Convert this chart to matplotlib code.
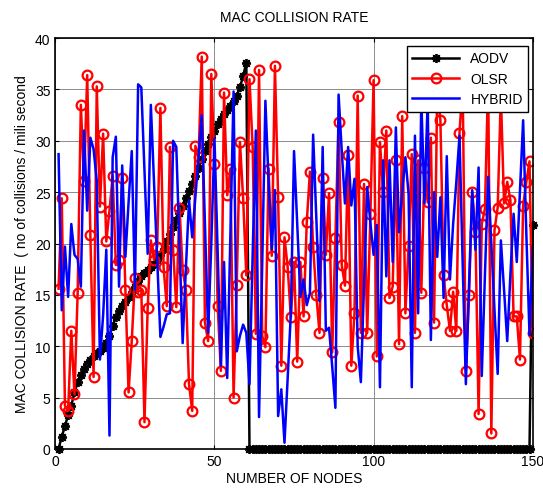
import numpy as np
from matplotlib import pyplot as plt

plt.rcParams['font.family'] = ['Liberation Sans', 'DejaVu Sans']

# DATOS
nodos = np.arange(1, 151)

aodv_subida = [0, 1.2, 2.2, 3.3, 4.2, 5.5, 6.5, 7.2, 7.8, 8.3,
               8.7, 9.0, 9.3, 9.5, 9.8, 10.3, 11.0, 12.0, 12.8, 13.4,
               13.9, 14.3, 14.8, 15.3, 15.8, 16.3, 16.8, 17.1, 17.4, 17.7,
               18.0, 18.4, 18.9, 19.5, 20.2, 20.9, 21.6, 22.3, 23.0, 23.7,
               24.4, 25.1, 25.8, 26.6, 27.4, 28.2, 29.0, 29.7, 30.4, 31.0,
               31.6, 32.1, 32.6, 33.0, 33.4, 33.9, 34.4, 35.2, 36.3, 37.6]
aodv_ceros = [0] * 89
aodv_final = [21.8]
aodv = aodv_subida + aodv_ceros + aodv_final

olsr = [15.6, 24.4, 4.2, 3.7, 11.5, 5.3, 15.2, 33.5, 26.1, 36.4,
        20.8, 7.0, 35.3, 23.6, 30.7, 20.2, 23.2, 26.6, 17.9, 18.4,
        26.4, 15.5, 5.5, 10.5, 16.6, 15.3, 15.5, 2.6, 13.7, 20.3,
        18.4, 19.7, 33.2, 17.7, 13.9, 29.4, 19.4, 13.8, 23.5, 17.4,
        15.5, 6.3, 3.7, 29.5, 28.4, 38.2, 12.3, 10.5, 36.5, 27.7,
        13.9, 7.6, 34.7, 24.7, 27.3, 5.0, 16.0, 29.9, 24.4, 16.9,
        36.0, 29.4, 11.2, 36.9, 11.0, 9.9, 27.3, 18.8, 37.3, 24.5,
        8.1, 20.6, 17.7, 12.8, 18.2, 8.5, 18.2, 12.9, 22.1, 27.0,
        19.7, 15.0, 11.3, 26.4, 18.9, 24.9, 9.4, 20.5, 31.8, 17.9,
        15.9, 28.6, 8.1, 13.2, 34.4, 11.3, 25.8, 11.3, 22.9, 35.9,
        9.0, 29.9, 25.0, 31.0, 14.7, 15.8, 28.1, 10.2, 32.4, 13.2,
        19.8, 28.7, 11.3, 28.1, 15.2, 27.4, 24.0, 30.3, 12.3, 35.0,
        32.0, 16.9, 14.0, 11.5, 15.3, 11.5, 30.8, 35.5, 7.6, 15.0,
        25.0, 21.1, 3.4, 21.9, 23.4, 36.0, 1.5, 21.3, 23.5, 34.5,
        23.9, 26.0, 24.2, 12.9, 12.9, 8.7, 23.7, 26.0, 28.0, 11.3]

hybrid = [28.7, 13.5, 19.7, 14.8, 21.9, 18.9, 18.5, 15.8, 31.0, 23.2,
          30.3, 29.2, 26.1, 8.7, 13.0, 19.4, 1.3, 28.4, 30.4, 15.8,
          27.6, 18.7, 24.0, 29.0, 15.5, 35.5, 35.2, 27.0, 19.0, 33.5,
          26.0, 18.5, 10.9, 11.9, 13.1, 13.2, 30.0, 29.4, 20.0, 10.3,
          17.5, 24.2, 20.6, 24.5, 28.5, 32.5, 22.0, 11.3, 20.0, 30.2,
          19.0, 8.1, 18.2, 6.9, 21.0, 34.8, 9.5, 11.0, 12.1, 11.3,
          6.3, 19.0, 31.0, 3.1, 18.0, 33.9, 26.0, 19.4, 25.2, 3.2,
          5.8, 0.6, 7.0, 13.2, 29.0, 22.0, 14.8, 16.5, 14.0, 15.2,
          30.6, 22.5, 14.4, 29.4, 11.5, 11.8, 8.0, 4.0, 34.5, 29.0,
          23.9, 29.4, 23.7, 26.3, 10.0, 6.5, 16.0, 25.5, 22.0, 18.9,
          21.8, 6.0, 28.1, 16.8, 28.1, 18.2, 31.3, 21.1, 25.0, 28.4,
          24.8, 6.0, 30.5, 13.2, 34.0, 23.9, 34.0, 10.6, 25.0, 18.7,
          24.5, 14.7, 28.5, 16.5, 21.9, 26.0, 30.5, 18.0, 6.3, 16.0,
          25.2, 19.4, 27.4, 7.1, 17.0, 26.5, 20.0, 13.5, 7.3, 20.3,
          15.5, 10.5, 17.0, 22.9, 18.2, 25.0, 32.0, 21.0, 11.1, 19.7]

xticks = [0, 50, 100, 150]
yticks = [0, 5, 10, 15, 20, 25, 30, 35, 40]


def main():
    fig = plt.figure(figsize=(5.43, 4.89), dpi=100)
    ax = fig.add_axes([0.102, 0.080, 0.879, 0.840])

    # asterisco tipo matlab
    ax.plot(nodos, aodv, '-k', marker=(8, 2, 0), lw=1.8, ms=6.5, mew=1.3,
            label='AODV', clip_on=False)
    ax.plot(nodos, olsr, '-ro', lw=1.8, ms=7, mfc='none', mew=1.6, label='OLSR')
    ax.plot(nodos, hybrid, '-b', lw=1.8, label='HYBRID')

    ax.set_xlim(0, 150)
    ax.set_ylim(0, 40)
    ax.set_xticks(xticks)
    ax.set_yticks(yticks)
    ax.grid(True, color='0.55', lw=0.7)
    ax.set_axisbelow(True)
    ax.tick_params(direction='in', length=3, top=True, right=True, labelsize=10)
    for s in ax.spines.values():
        s.set_linewidth(1.2)

    ax.set_title('MAC COLLISION RATE', fontsize=10, pad=12)
    ax.set_xlabel('NUMBER OF NODES', fontsize=10, labelpad=2)
    ax.set_ylabel('MAC COLLISION RATE  ( no of collisions / mili second', fontsize=10, labelpad=4)

    leg = ax.legend(loc='upper right', bbox_to_anchor=(0.991, 0.981), borderaxespad=0,
                    fontsize=10, handlelength=3.4, labelspacing=0.45, fancybox=False,
                    framealpha=1, edgecolor='k')
    leg.get_frame().set_linewidth(1.0)

    fig.savefig('out.png', dpi=100)


main()
